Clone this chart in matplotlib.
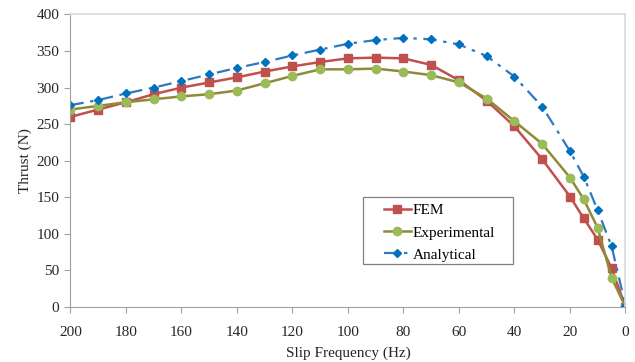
import matplotlib.pyplot as plt
from matplotlib.patches import Rectangle

# Slip frequency (Hz)
freq = [200, 190, 180, 170, 160, 150, 140, 130, 120, 110, 100, 90, 80, 70,
        60, 50, 40, 30, 20, 15, 10, 5, 0]

# Thrust (N)
fem = [260, 270, 280, 291, 300, 307, 314, 322, 329, 335, 340, 341, 340, 331,
       310, 282, 247, 202, 151, 121, 92, 53, 0]
experimental = [270, 275, 280, 284, 288, 291, 296, 306, 316, 325, 325, 326, 322, 317,
                307, 285, 254, 223, 177, 147, 108, 40, 0]
analytical = [276, 283, 292, 300, 309, 318, 327, 335, 344, 352, 360, 365, 368, 366,
              359, 343, 315, 274, 213, 178, 132, 83, 2]

plt.rcParams['font.family'] = ['Liberation Serif', 'DejaVu Serif']

fig = plt.figure(figsize=(6.35, 3.62), dpi=100)
ax = fig.add_axes([0.111, 0.152, 0.874, 0.808])

ax.plot(freq, fem, color='#C0504D', lw=1.8, marker='s', ms=6,
        mfc='#C0504D', mec='#C0504D', label='FEM')
ax.plot(freq, experimental, color='#8F8A3A', lw=1.8, marker='o', ms=6,
        mfc='#9BBB59', mec='#9BBB59', label='Experimental')
ax.plot(freq, analytical, color='#2F78C0', lw=1.6, ls=(0, (6, 3, 1.5, 3)),
        marker='D', ms=4, mfc='#0070C0', mec='#0070C0', label='Analytical')

ax.set_xlim(200, 0)
ax.set_ylim(0, 400)
ax.set_xticks(range(200, -1, -20))
ax.set_yticks(range(0, 401, 50))
ax.tick_params(labelsize=11, labelcolor='#262626', length=4, width=0.8, color='#A0A0A0')
ax.tick_params(axis='x', pad=10)
ax.tick_params(axis='y', pad=4)
for s in ['left', 'bottom']:
    ax.spines[s].set_color('#A0A0A0')
for s in ['top', 'right']:
    ax.spines[s].set_color('#D5DCE4')
    ax.spines[s].set_linewidth(1.2)

ax.set_xlabel('Slip Frequency (Hz)', fontsize=11, labelpad=5, color='#262626')
ax.set_ylabel('Thrust (N)', fontsize=11, labelpad=3, color='#262626')

# legend box drawn separately (wider frame like the original)
ax.add_patch(Rectangle((0.527, 0.147), 0.27, 0.229, transform=ax.transAxes,
                       fill=True, facecolor='white', edgecolor='#808080', lw=0.9, zorder=4))
leg = ax.legend(loc='upper left', bbox_to_anchor=(0.545, 0.39), fontsize=11,
                frameon=False, handlelength=1.8, handletextpad=0.1,
                borderpad=0.2, labelspacing=0.56)
leg.set_zorder(5)

fig.savefig('out.png', dpi=100)
